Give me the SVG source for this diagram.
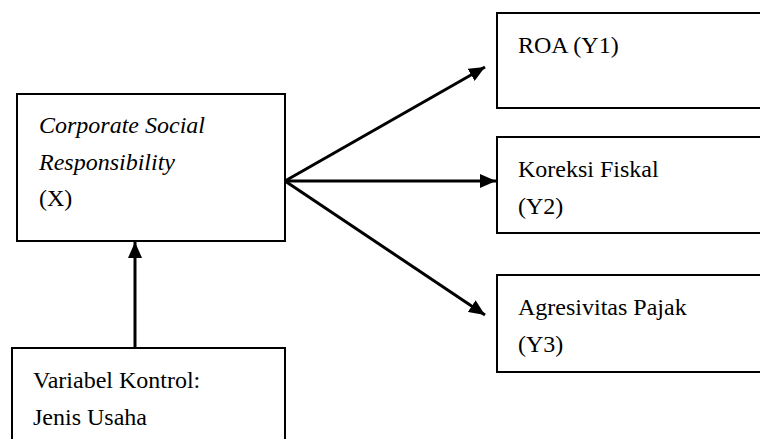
<svg xmlns="http://www.w3.org/2000/svg" width="760" height="439" viewBox="0 0 760 439">
<defs>
<marker id="ah" markerWidth="16" markerHeight="14" refX="16" refY="7" orient="auto" markerUnits="userSpaceOnUse" viewBox="0 0 16 14">
<path d="M0,0 L16,7 L0,14 z" fill="#000"/>
</marker>
<style>
.box{fill:#fff;stroke:#000;stroke-width:2}
.c{stroke:#000;stroke-width:3;fill:none;marker-end:url(#ah)}
text{font-family:'Liberation Serif','Times New Roman',serif;font-size:24px;fill:#000}
.i{font-style:italic}
</style>
</defs>
<rect width="760" height="439" fill="#fff"/>
<g id="csr">
<rect class="box" x="17" y="94" width="268" height="147"/>
<text class="i" x="39" y="133">Corporate Social</text>
<text class="i" x="39" y="170">Responsibility</text>
<text x="39" y="206">(X)</text>
</g>
<g id="roa">
<rect class="box" x="497" y="13" width="280" height="95"/>
<text x="518" y="53">ROA (Y1)</text>
</g>
<g id="koreksi">
<rect class="box" x="497" y="137" width="280" height="96"/>
<text x="518" y="177">Koreksi Fiskal</text>
<text x="518" y="214">(Y2)</text>
</g>
<g id="agresivitas">
<rect class="box" x="497" y="275" width="280" height="97"/>
<text x="518" y="315">Agresivitas Pajak</text>
<text x="518" y="352">(Y3)</text>
</g>
<g id="kontrol">
<rect class="box" x="12" y="348" width="273" height="110"/>
<text x="33" y="388">Variabel Kontrol:</text>
<text x="33" y="425">Jenis Usaha</text>
</g>
<g id="connectors">
<line class="c" x1="285" y1="181" x2="485" y2="67"/>
<line class="c" x1="285" y1="181" x2="496" y2="181"/>
<line class="c" x1="285" y1="181" x2="485" y2="315"/>
<line class="c" x1="135" y1="348" x2="135" y2="242"/>
</g>
</svg>
